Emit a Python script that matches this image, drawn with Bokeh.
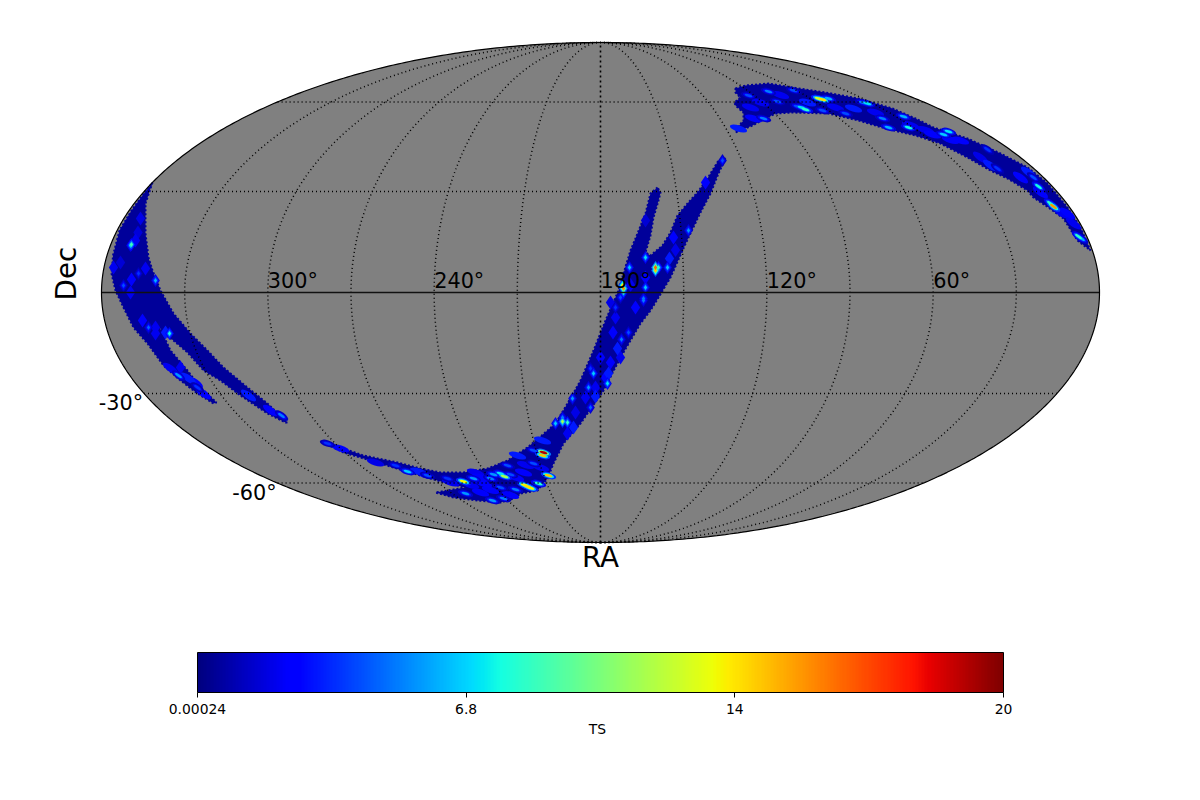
import math
import numpy as np
from bokeh.plotting import figure
from bokeh.models import ColumnDataSource, LinearColorMapper, ColorBar, FixedTicker
from bokeh.core.properties import value
from bokeh.embed import file_html
from bokeh.resources import INLINE

# Coordinates of the map are Mollweide-plane units: half width 99.8, half height 50.
TS_MIN, TS_MAX = 0.00024, 20.0
CB_TICKS = [0.00024, 6.6668, 13.3334, 20.0]
CB_LABELS = ["0.00024", "6.8", "14", "20"]
RA_TICKS = [300, 240, 180, 120, 60]
DEC_TICKS = [-30, -60]
BAND_TS = 0.5

band_a_x = [-89.6,-91,-91,-90.4,-89.6,-88,-85.4,-82,-78.6,-75.4,-70.6,-66.6,-62.6,-63,-66.6,-72,-76,-79.4,-82.6,-85.4,-87.4,-88.4,-87.6,-86,-82.6,-80,-76.8,-77.4,-80.6,-84,-87.4,-90.6,-93.4,-95.4,-97,-97.8,-97.6,-97.5,-96.2,-93.8,-91.6]
band_a_y = [22,17.8,11.8,7,4.4,0.4,-4.2,-8.2,-11.6,-15,-19,-22.2,-26,-26,-24.2,-20.6,-17.6,-15.6,-12,-9.6,-8.2,-6.6,-8.2,-11.6,-15.6,-19,-22,-22.2,-20.2,-17.6,-14.6,-10.2,-7,-3,0.4,3.8,6,7.4,12.4,16.4,19.4]

band_b_x = [11.4,10,9,7.4,6,4.6,3.6,1,-1.4,-4,-6.6,-9,-10.6,-14.6,-18.6,-22.6,-27.4,-32,-36,-40.6,-47.4,-52,-55.4,-55,-51.4,-46,-39.4,-32.6,-27,-33,-29.4,-24.6,-20,-17.4,-16,-12.6,-10.6,-9.4,-7.4,-4,0.6,4,8,10,11.6,14,16.4,17.6,20,22,23.6,25,23.6,21.4,19.4,17.4,15.4,14,12.4,10,9,10,10.6,11.6,12]
band_b_y = [21,19.8,15.8,11.8,8.4,3.8,0.4,-5.6,-11.6,-17.6,-22.2,-26.2,-27.6,-31,-33.6,-35.2,-36,-36,-35.2,-34,-32.6,-31,-29.6,-30.2,-32,-33.6,-35.6,-37.6,-39,-40,-41,-41.6,-42,-41.2,-40.2,-39.6,-37.2,-34.2,-30.2,-26.2,-19.6,-13,-6.2,-3.6,-1,3,8.4,11,16,19.8,23.8,26.8,26.4,22.8,20,17.8,15.4,12,9.4,7.4,8,11.4,15,18.4,20]

band_c_x = [27,29,33.6,38.4,45,51.6,58.4,63,66.6,73.4,80,85.4,89.4,93.4,96,98,95.4,92.6,89.6,86.6,85.4,81.4,78,73.4,68,63,57,51.6,45.6,38.4,35,33,30.4,27,27.4,28.6,28.6,27,26.8,28,27]
band_c_y = [40.8,41.4,41.8,41,40,38.8,36.8,34.8,33,30.8,27.8,25,21.8,17,13,8.4,10.4,14.8,17,19,20.4,22.8,24.4,27,29.8,31.4,32.8,34.4,35.8,36,35.8,34.8,33.4,32,33,34.4,36,37.4,38,39,40]

spot_x = [-92,-93,-94,-93.8,-92.4,-95.4,-93.8,-91,-97.4,-89,-90.4,-91.6,-89,-86.2,-87,-84.4,-82.4,-80.6,-79.4,-86,-70.4,-66,-63.8,
          -54.6,-52,-41,-38.6,-34.6,-36.4,-27.4,-25.4,-30.6,-27,-21.4,-19.2,-20,-18,-22,-23.4,-21.6,-19.4,-20,-17,-14.6,-15.2,-14,-12.4,-10.4,-11.4,-11.6,-13.4,-13.4,-11.6,-15.4,-16.6,-18.6,
          -7.6,-9,-6.6,-7.6,-5.4,-6.6,-2.4,-5.6,1.4,-1.4,-2,1.6,-1,-2,2,3.4,4.2,5.6,3,8.6,4.6,4.6,4.4,9,5.8,11,11,11.6,13.4,13.8,9,17.6,14.6,21,9,24.4,8.6,4,
          44.4,43.6,45.6,40.2,41,39.4,33.6,35.4,29.6,38.6,53.4,52.4,50.6,49,44.4,56.4,57.6,60.6,61.6,32.6,27.6,30.6,41.4,68.6,69.6,66.4,72,77.4,79.4,78,86.6,85.6,87.6,90.6,90,93.4,95.6,96.2,94.6,
          2.5,0,-3,-5,7,9,6,2,15,3,4,1,-1,
          -30,-24,-24,-17,-15,-12,
          32,36,30,47,55,62,65,70,84,92,88,76,
          -45,-35,-26,-18,-22,-25,
          -92.5,-94,-96,-89,-84,-81]
spot_y = [14.8,10.4,9.4,9.6,3.8,1.4,2.6,4.8,5,2.4,-7,-5.6,-8.2,-8.2,-8,-16.6,-17.2,-19,-20.2,-15.2,-20.6,-23.6,-24.6,
          -30.2,-31.2,-34.6,-35.8,-36.6,-35.8,-37.8,-37.2,-37.2,-40.2,-36.4,-36.8,-36.2,-36.4,-37.2,-38.2,-41.6,-41.2,-39,-39.4,-38.8,-38.5,-39.1,-38.2,-36.6,-32,-32.6,-34.2,-31.6,-29.6,-36,-32.6,-34.6,
          -25.8,-26.2,-26,-25,-27,-28.2,-19,-21.2,-18.2,-16.2,-15.2,-16.2,-20.8,-23,-14,-11.2,-9.4,-8,-3,-1.6,0.8,0,1.4,7,5,5,4.4,5,5,6.8,1,12.4,11,22,14.4,26.4,-1.2,-1,
          38.6,38.8,38.8,37,36.6,37.2,40.2,38.2,39.4,40.4,37.8,38,36.8,35.8,36.4,34.8,33,35.2,33,34.8,32.8,34.8,38,31.6,32.2,31.6,30.4,28.6,24.8,25.4,23,24,21.2,17.2,17.8,15.8,11.2,10.8,13.8,
          -8,-13,-21,-24,-3,3,1.5,-2,8.5,-5,-13,-17,-19,
          -38,-37,-40,-37,-34.5,-35,
          38,39.5,37,37,36,33.5,32.5,30.5,23,16,20,27,
          -34,-36.5,-38.5,-40.5,-39.5,-36,
          12,0,6,-7,-15,-18]
spot_ts = [1.8,2,6.5,8.5,3.5,4,2.5,2,2,6,4.5,2.5,2,7.5,3,5.5,3,3.5,2.5,2,3,2.5,5,
           3.5,2.2,3.5,6.5,4,3,13,5.5,3.5,5.5,5.5,11,7,4,5,2.5,5.5,5,4,5,13.5,13,13,8,14,19,14,4,4,3,2.5,3,4,
           11,6.5,8,5,3,2,5.5,5.5,7,6.5,3.5,3,3,4.5,2.5,3,5,4,3.5,5,15,8,13,7,6.5,16,14,8,6.5,3,6.5,5.5,2.5,2.5,1.5,4,5,4,
           13.5,12,6,7,8,4,5,4,4,4,7,5,3,4,4,5,6,6,7.5,5,3,2.5,3,6.5,7,2.5,2.5,3.5,3.5,3,4,3,7.5,15,8,2.5,8,6,2,
           2.2,2.2,2,1.8,2.5,2.2,2,1.8,1.8,2,2,2.2,2,
           2,2.2,2.2,2.2,2,2,
           2,2,2,2,2,2,2,2.2,2.2,2,2.5,1.8,
           1.8,2.2,2,2.2,2.2,2,
           1.6,2,1.5,2,2,2.2]

A, B = 99.8, 50.0


def jet_channel(v, pts):
    return float(np.interp(v, [q[0] for q in pts], [q[1] for q in pts]))


def jet(v):
    r = jet_channel(v, [(0, 0), (0.35, 0), (0.66, 1), (0.89, 1), (1, 0.5)])
    g = jet_channel(v, [(0, 0), (0.125, 0), (0.375, 1), (0.64, 1), (0.91, 0), (1, 0)])
    b = jet_channel(v, [(0, 0.5), (0.11, 1), (0.34, 1), (0.65, 0), (1, 0)])
    return "#%02x%02x%02x" % (int(r * 255), int(g * 255), int(b * 255))


palette = [jet(i / 255) for i in range(256)]
mapper = LinearColorMapper(palette=palette, low=TS_MIN, high=TS_MAX)


def theta_of_lat(lat_deg):
    lat = math.radians(lat_deg)
    t = lat
    for _ in range(60):
        t -= (2 * t + math.sin(2 * t) - math.pi * math.sin(lat)) / (2 + 2 * math.cos(2 * t))
    return t


def band_colour(ts):
    return palette[int((ts - TS_MIN) / (TS_MAX - TS_MIN) * 255)]


p = figure(width=1184, height=784, x_range=(-120, 116.8), y_range=(-98.4, 58.4),
           toolbar_location=None, output_backend="svg", min_border=0,
           background_fill_color="white", border_fill_color="white")
p.axis.visible = False
p.grid.visible = False
p.outline_line_color = None

tt = np.linspace(-math.pi / 2, math.pi / 2, 361)
ell_x = np.concatenate([A * np.cos(tt), -A * np.cos(tt[::-1])])
ell_y = np.concatenate([B * np.sin(tt), B * np.sin(tt[::-1])])
p.patch(ell_x, ell_y, fill_color="#808080", line_color=None)

base = band_colour(BAND_TS)
p.patches([band_a_x, band_b_x, band_c_x], [band_a_y, band_b_y, band_c_y],
          fill_color=base, line_color=base, line_width=2, line_dash="2 2")


def is_streak(x, y):
    return y < -29 or y > 28 or x > 75 or (x < -60 and y < -15)


def streak_angle(x):
    return -0.62 if x > 75 or x < -60 else -0.3


round_idx = [i for i in range(len(spot_ts)) if not is_streak(spot_x[i], spot_y[i])]
long_idx = [i for i in range(len(spot_ts)) if is_streak(spot_x[i], spot_y[i])]


def add_round(idx, frac, size):
    idx = sorted(idx, key=lambda i: spot_ts[i])
    src = ColumnDataSource(dict(x=[spot_x[i] for i in idx], y=[spot_y[i] for i in idx],
                                ts=[spot_ts[i] * frac for i in idx]))
    p.scatter("x", "y", source=src, marker="diamond", size=size, line_color=None,
              fill_color={"field": "ts", "transform": mapper})


def add_long(idx, frac, w, h):
    idx = sorted(idx, key=lambda i: spot_ts[i])
    src = ColumnDataSource(dict(x=[spot_x[i] for i in idx], y=[spot_y[i] for i in idx],
                                ts=[spot_ts[i] * frac for i in idx],
                                a=[streak_angle(spot_x[i]) for i in idx]))
    p.ellipse("x", "y", width=w, height=h, angle="a", source=src, line_color=None,
              fill_color={"field": "ts", "transform": mapper})


soft = [i for i in round_idx if spot_ts[i] < 3.5]
bright = [i for i in round_idx if spot_ts[i] >= 3.5]
add_round(soft, 1.0, 14)
add_round(bright, 0.3, 13)
add_round(bright, 0.55, 9)
add_round(bright, 1.0, 5)

soft_long = [i for i in long_idx if spot_ts[i] < 3.5]
bright_long = [i for i in long_idx if spot_ts[i] >= 3.5]
add_long(soft_long, 1.0, 3.6, 1.3)
add_long(bright_long, 0.25, 3.2, 1.3)
add_long(bright_long, 0.5, 2.3, 0.85)
add_long(bright_long, 1.0, 1.6, 0.55)

for lon in range(-150, 151, 30):
    if lon == 0:
        continue
    p.line(A * lon / 180 * np.cos(tt), B * np.sin(tt), line_color="black",
           line_width=1.5, line_dash="1 3")
for lat in (-60, -30, 30, 60):
    th = theta_of_lat(lat)
    hw = A * math.cos(th)
    p.line([-hw, hw], [B * math.sin(th)] * 2, line_color="black",
           line_width=1.5, line_dash="1 3")
p.line([-A, A], [0, 0], line_color="#111111", line_width=1.5)
p.line(0 * tt, B * np.sin(tt), line_color="black", line_width=1.6, line_dash="2 3")
p.patch(ell_x, ell_y, fill_color=None, line_color="black", line_width=1.2)

font = value("DejaVu Sans")
p.text([A * (180 - ra) / 180 for ra in RA_TICKS], [0.0] * len(RA_TICKS),
       text=[f"{ra}°" for ra in RA_TICKS], text_font=font, text_font_size="20.8px",
       text_align="left", text_baseline="bottom", text_color="black")
dec_x, dec_y = [], []
for d in DEC_TICKS:
    th = theta_of_lat(d)
    dec_x.append(-A * math.cos(th) - 0.2)
    dec_y.append(B * math.sin(th) - 2)
p.text(dec_x, dec_y, text=[f"{d}°" for d in DEC_TICKS], text_font=font, text_font_size="20.8px",
       text_align="right", text_baseline="middle", text_color="black")
p.text([0], [-49.6], text=["RA"], text_font=font, text_font_size="27.8px",
       text_align="center", text_baseline="top", text_color="black")
p.text([-106.8], [3.8], text=["Dec"], text_font=font, text_font_size="27.8px", angle=math.pi / 2,
       text_align="center", text_baseline="middle", text_color="black")
p.text([-0.6], [-87.2], text=["TS"], text_font=font, text_font_size="13.9px",
       text_align="center", text_baseline="middle", text_color="black")

cb = ColorBar(color_mapper=mapper, location=(197, 68), width=806, height=40, padding=0,
              orientation="horizontal", ticker=FixedTicker(ticks=CB_TICKS),
              major_label_overrides=dict(zip(CB_TICKS, CB_LABELS)),
              major_label_text_font="DejaVu Sans", major_label_text_font_size="13.9px",
              major_label_text_color="black", major_tick_in=0, major_tick_out=5,
              major_tick_line_color="black", minor_tick_line_color=None,
              bar_line_color="black", bar_line_width=1, border_line_color=None,
              background_fill_alpha=0, margin=0, label_standoff=6)
p.add_layout(cb, "center")

open("out.html", "w").write(file_html(p, INLINE))
